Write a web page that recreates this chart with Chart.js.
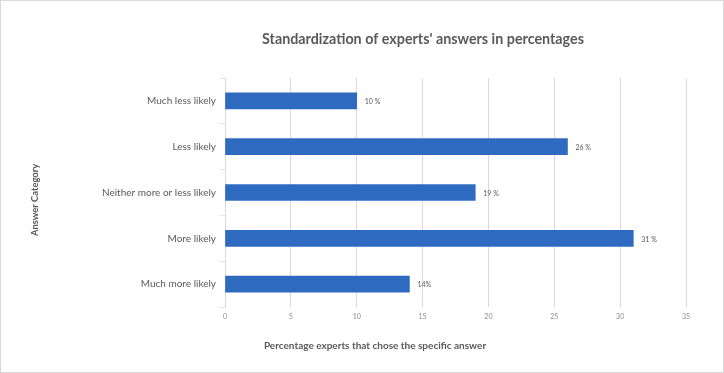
<!DOCTYPE html>
<html><head><meta charset="utf-8">
<script src="https://cdn.jsdelivr.net/npm/chart.js@4"></script>
<style>html,body{margin:0;padding:0;background:#fff}#wrap{width:724px;height:373px}</style>
</head><body><div id="wrap"><canvas id="c" width="724" height="373"></canvas></div>
<script>
const categories = ["Much less likely","Less likely","Neither more or less likely","More likely","Much more likely"];
const values = [10, 26, 19, 31, 14];
const valueLabels = ["10 %","26 %","19 %","31 %","14%"];
const xTicks = [0,5,10,15,20,25,30,35];
const titleText = "Standardization of experts' answers in percentages";
const xTitle = "Percentage experts that chose the specific answer";
const yTitle = "Answer Category";

const FONT = "Lato, 'Open Sans', sans-serif";

const deco = {
  id:'deco',
  beforeDraw(chart){
    const ctx = chart.ctx;
    ctx.save();
    ctx.fillStyle='#fff'; ctx.fillRect(0,0,chart.width,chart.height);
    ctx.strokeStyle='#d9d9d9'; ctx.lineWidth=1;
    ctx.strokeRect(0.5,0.5,chart.width-1,chart.height-1);
    ctx.restore();
  },
  afterDraw(chart){
    const ctx = chart.ctx;
    ctx.save();
    ctx.fillStyle='#595959';
    ctx.textAlign='center'; ctx.textBaseline='middle';
    ctx.font = "bold 14.3px " + FONT;
    ctx.fillText(titleText, 423, 39);
    ctx.font = "bold 10px " + FONT;
    ctx.fillText(xTitle, 375, 346);
    ctx.font = "bold 9.4px " + FONT;
    ctx.translate(35, 200); ctx.rotate(-Math.PI/2);
    ctx.fillText(yTitle, 0, 0);
    ctx.restore();
    const meta = chart.getDatasetMeta(0);
    ctx.save();
    ctx.fillStyle='#595959'; ctx.font = "7px " + FONT;
    ctx.textAlign='left'; ctx.textBaseline='middle';
    meta.data.forEach((b,i)=>{ ctx.fillText(valueLabels[i], b.x+8, b.y+1); });
    ctx.restore();
  }
};

new Chart(document.getElementById('c'), {
  type:'bar',
  data:{ labels:categories, datasets:[{ data:values, backgroundColor:'#2e6bc0', barThickness:16, borderWidth:0 }]},
  options:{
    indexAxis:'y', responsive:false, animation:false,
    layout:{ padding:{ top:78, right:38, left:0, bottom:0 } },
    plugins:{ legend:{display:false}, tooltip:{enabled:false}, title:{display:false} },
    scales:{
      x:{ min:0, max:35,
          afterBuildTicks(s){ s.ticks = xTicks.map(v=>({value:v})); },
          afterFit(s){ s.height = 66; },
          grid:{ color:'#d9d9d9', drawTicks:false },
          border:{ display:false },
          ticks:{ color:'#8c8c8c', font:{size:7, family:FONT}, padding:6 } },
      y:{ afterFit(s){ s.width = 225; },
          grid:{ offset:true, drawOnChartArea:false, color:'#e6e6e6', tickLength:5 },
          border:{ display:true, color:'#d9d9d9' },
          ticks:{ color:'#595959', font:{size:10, family:FONT}, padding:4 } }
    }
  },
  plugins:[deco]
});
</script></body></html>
